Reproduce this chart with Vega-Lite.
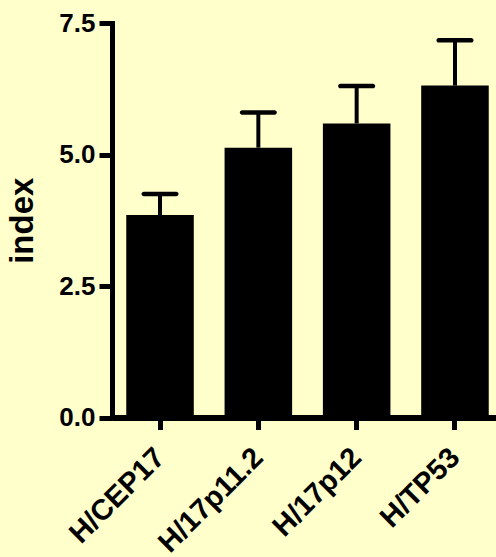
{
  "$schema": "https://vega.github.io/schema/vega-lite/v6.json",
  "width": 384,
  "height": 394.5,
  "autosize": {"type": "none"},
  "padding": {"left": 112, "top": 23, "right": 0, "bottom": 139.5},
  "background": "#FFFFCC",
  "config": {
    "view": {"stroke": null},
    "font": "Liberation Sans",
    "axisY": {
      "format": ".1f",
      "grid": false,
      "domainColor": "black",
      "domainWidth": 5,
      "domainCap": "square",
      "tickColor": "black",
      "tickWidth": 5,
      "tickSize": 13,
      "labelFont": "Liberation Sans",
      "labelFontWeight": "bold",
      "labelFontSize": 26,
      "labelColor": "black",
      "labelPadding": 4,
      "labelFlush": false,
      "labelOverlap": false,
      "titleFont": "Liberation Sans",
      "titleFontSize": 33,
      "titleFontWeight": "bold",
      "titleColor": "black",
      "titlePadding": 19
    }
  },
  "data": {
    "values": [
      {"probe": "H/CEP17", "mean": 3.85, "upper": 4.25},
      {"probe": "H/17p11.2", "mean": 5.13, "upper": 5.8},
      {"probe": "H/17p12", "mean": 5.59, "upper": 6.3},
      {"probe": "H/TP53", "mean": 6.31, "upper": 7.17}
    ]
  },
  "encoding": {
    "x": {
      "field": "probe",
      "type": "nominal",
      "sort": null,
      "scale": {"range": [0, 391], "paddingInner": 0.313, "paddingOuter": 0.145},
      "axis": {
        "title": null,
        "labelAngle": -45,
        "labelAlign": "right",
        "labelBaseline": "middle",
        "domainColor": "black",
        "domainWidth": 6,
        "tickColor": "black",
        "tickWidth": 5,
        "tickSize": 12,
        "labelFont": "Liberation Sans",
        "labelFontSize": 29,
        "labelFontWeight": "bold",
        "labelColor": "black",
        "labelPadding": 23
      }
    }
  },
  "layer": [
    {
      "mark": {"type": "rule", "color": "black", "strokeWidth": 4},
      "encoding": {
        "y": {"field": "mean", "type": "quantitative", "title": "index", "scale": {"domain": [0, 7.5], "nice": false}, "axis": {"values": [0, 2.5, 5, 7.5]}},
        "y2": {"field": "upper"}
      }
    },
    {
      "mark": {"type": "tick", "color": "black", "opacity": 1, "size": 37, "thickness": 4.5, "cornerRadius": 2.2},
      "encoding": {
        "y": {"field": "upper", "type": "quantitative", "title": "index", "scale": {"domain": [0, 7.5], "nice": false}, "axis": {"values": [0, 2.5, 5, 7.5]}}
      }
    },
    {
      "mark": {"type": "bar", "color": "black"},
      "encoding": {
        "y": {"field": "mean", "type": "quantitative", "title": "index", "scale": {"domain": [0, 7.5], "nice": false}, "axis": {"values": [0, 2.5, 5, 7.5]}}
      }
    }
  ]
}
